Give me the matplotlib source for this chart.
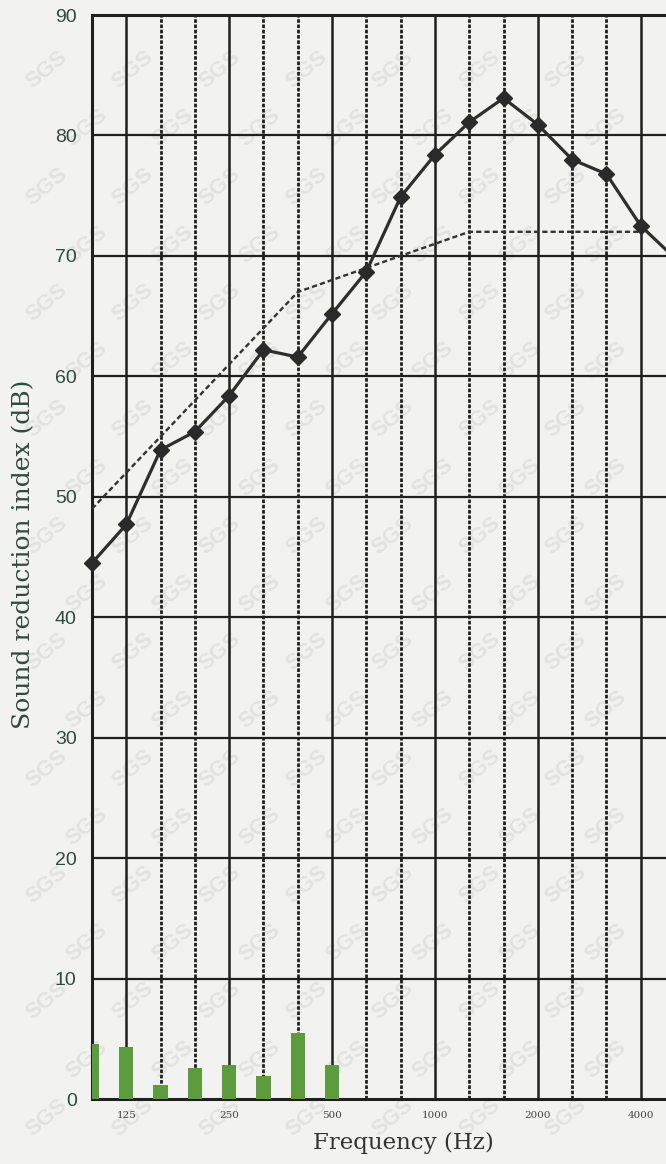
import numpy as np
import matplotlib
matplotlib.use("Agg")
import matplotlib.pyplot as plt

# third-octave bands, 100 Hz - 5000 Hz
freqs = [100, 125, 160, 200, 250, 315, 400, 500, 630, 800, 1000,
         1250, 1600, 2000, 2500, 3150, 4000, 5000]
# measured sound reduction index (dB)
measured = [44.5, 47.7, 53.9, 55.4, 58.4, 62.2, 61.6, 65.2, 68.7, 74.9, 78.4,
            81.1, 83.1, 80.9, 78.0, 76.8, 72.5, 69.8]
# shifted reference curve (ISO 717-1), drawn up to 4000 Hz
ref_freqs = [100, 125, 160, 200, 250, 315, 400, 500, 630, 800, 1000,
             1250, 1600, 2000, 2500, 3150, 4000]
reference = [49, 52, 55, 58, 61, 64, 67, 68, 69, 70, 71,
             72, 72, 72, 72, 72, 72]
# unfavourable deviations (dB)
dev_freqs = [100, 125, 160, 200, 250, 315, 400, 500]
deviation = [4.6, 4.3, 1.2, 2.6, 2.8, 1.9, 5.5, 2.8]

octave_labels = [125, 250, 500, 1000, 2000, 4000]
yticks = [0, 10, 20, 30, 40, 50, 60, 70, 80, 90]

idx = {f: i for i, f in enumerate(freqs)}
x = np.arange(len(freqs))

fig = plt.figure(figsize=(6.66, 11.64), dpi=100)
fig.patch.set_facecolor('#f2f2f0')

# faint "SGS" watermark, kept inside the figure and behind the chart
for row, gy in enumerate(np.arange(0.04, 0.97, 0.05)):
    off = 0.06 if row % 2 else 0.0
    for gx in np.arange(0.07, 0.93, 0.13):
        fig.text(gx + off, gy, 'SGS', color='#e2e2e2', fontsize=16,
                 rotation=40, ha='center', va='center', zorder=-5,
                 fontfamily='Liberation Sans', fontweight='bold')

ax = fig.add_axes([92/666, 1 - 1099/1164, 583/666, 1084/1164])
ax.set_facecolor('none')
ax.set_zorder(1)
ax.set_xlim(0, 17)
ax.set_ylim(0, 90)

line_col = '#1f1f1f'
for f in freqs:
    if f in octave_labels:
        ax.axvline(idx[f], color=line_col, lw=1.8, zorder=1)
    elif f != 100:
        ax.axvline(idx[f], color=line_col, lw=2.0, ls=(0, (1.3, 0.6)), zorder=1)
for yv in yticks[1:]:
    ax.axhline(yv, color=line_col, lw=1.6, zorder=1)

# deviation bars
ax.bar([idx[f] for f in dev_freqs], deviation, width=0.42,
       color='#5c9c3c', zorder=3)

# reference curve
ax.plot([idx[f] for f in ref_freqs], reference, color='#333333', lw=1.7,
        ls=(0, (2.2, 1.3)), zorder=4)

# measured curve
ax.plot(x, measured, color='#2e2e2e', lw=2.3, marker='D', ms=8.5,
        mfc='#2a2a2a', mec='#2a2a2a', zorder=5, clip_on=False)

for side in ['left', 'bottom', 'top', 'right']:
    ax.spines[side].set_color(line_col)
    ax.spines[side].set_linewidth(2.2)

ax.set_yticks(yticks)
ax.set_yticklabels([str(v) for v in yticks], fontsize=14,
                   color='#2e4b3e', fontfamily='Liberation Sans')
ax.set_xticks([idx[f] for f in octave_labels])
ax.set_xticklabels([str(f) for f in octave_labels], fontsize=7.5,
                   color='#444444', fontfamily='DejaVu Serif')
ax.tick_params(axis='both', length=0)
ax.tick_params(axis='y', pad=11)
ax.tick_params(axis='x', pad=9)

fig.text(403/666, 1 - 1143/1164, 'Frequency (Hz)', ha='center', va='center',
         fontsize=16.5, color='#333333', fontfamily='DejaVu Serif')
fig.text(24/666, 1 - 554/1164, 'Sound reduction index (dB)', ha='center',
         va='center', rotation=90, fontsize=18, color='#2e4b3e',
         fontfamily='DejaVu Serif')

fig.savefig('out.png', dpi=100, facecolor=fig.get_facecolor())
